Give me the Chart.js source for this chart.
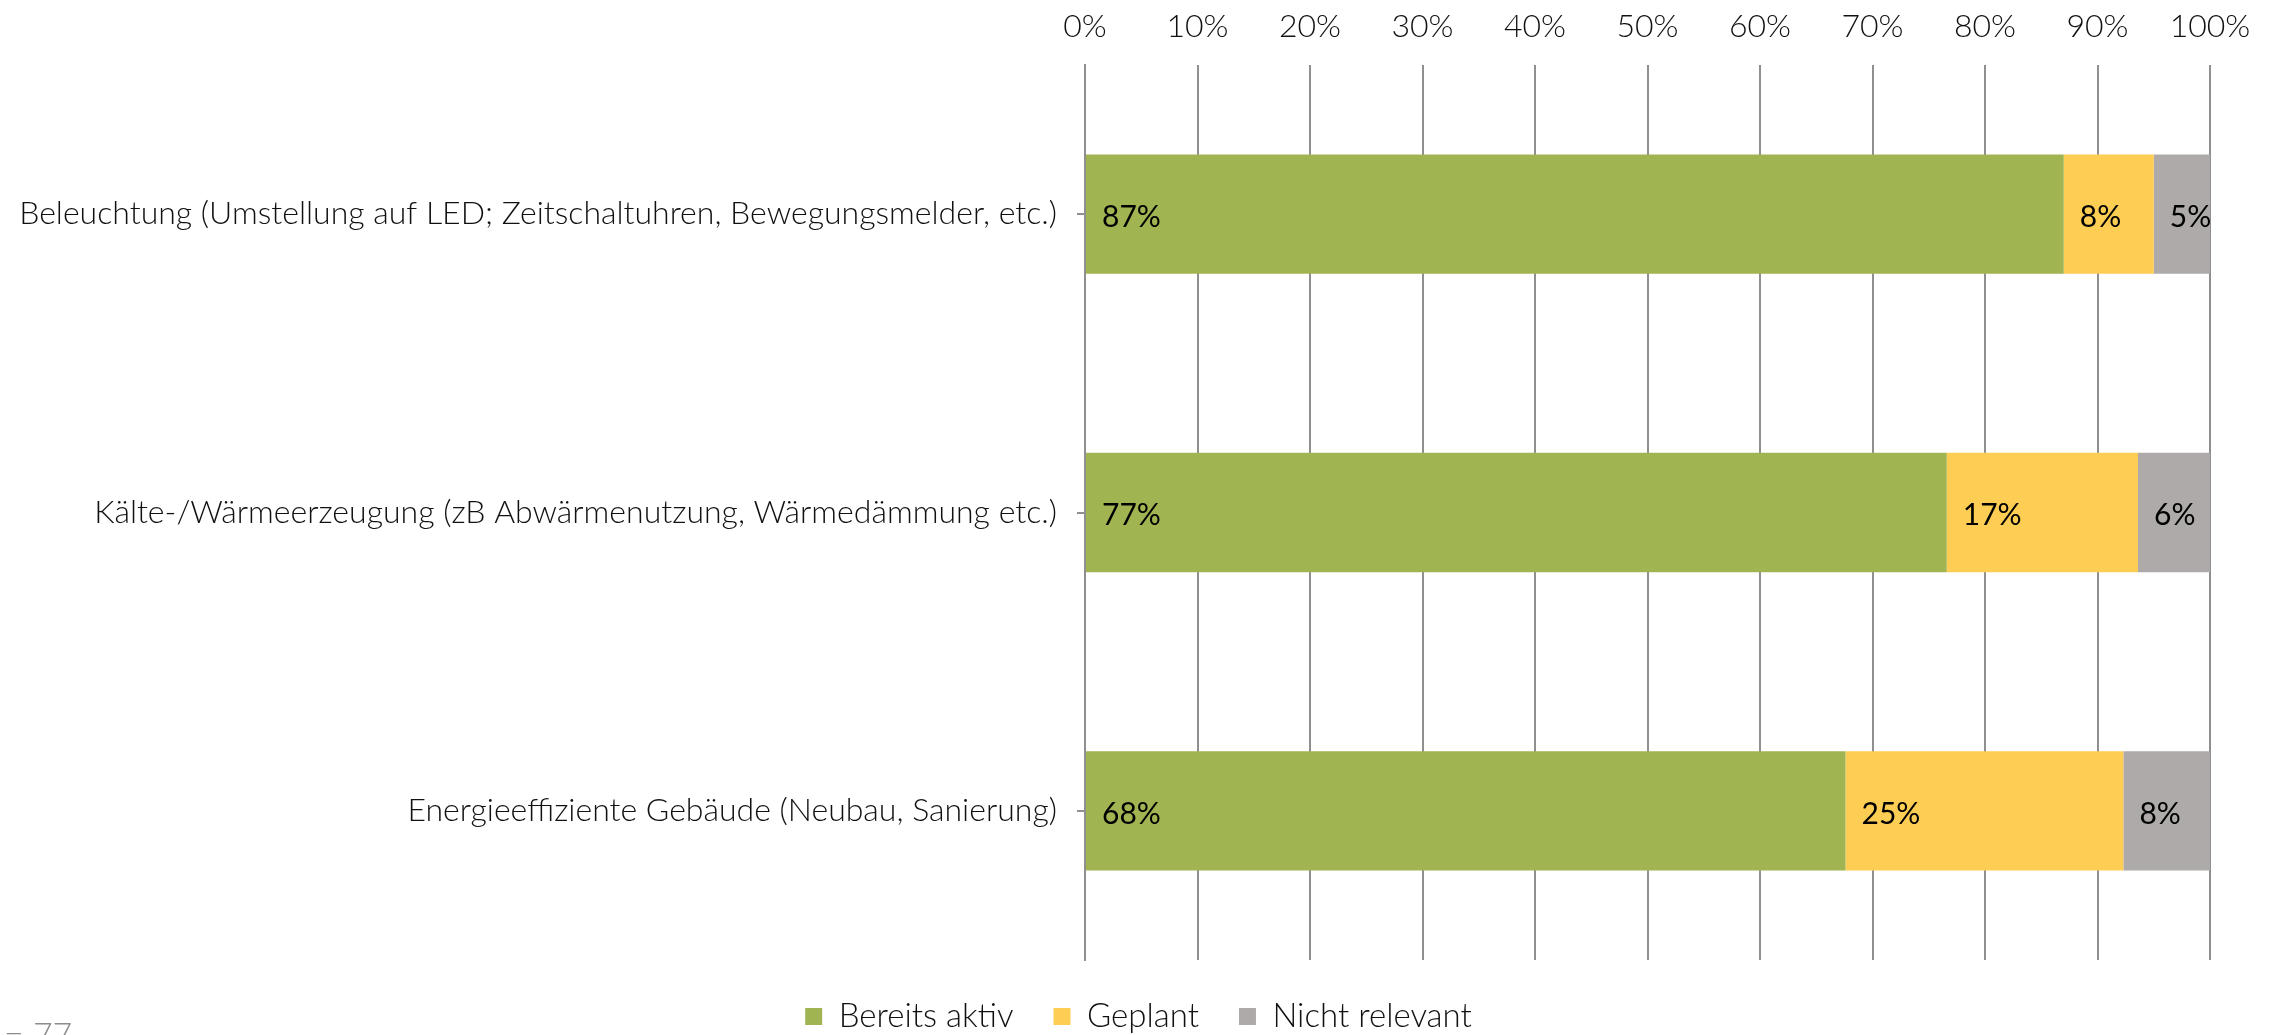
<!DOCTYPE html>
<html>
<head>
<meta charset="utf-8">
<script src="https://cdn.jsdelivr.net/npm/chart.js@4"></script>
<style>
  html, body { margin: 0; padding: 0; background: #fff; overflow: hidden; }
  #wrap { position: relative; width: 2277px; height: 1035px; }
  #note { position: absolute; left: -24px; top: 1013px; font: 300 34px Lato, sans-serif; color: #8c8c8c; }
</style>
</head>
<body>
<div id="wrap">
  <canvas id="chart" width="2277" height="1035"></canvas>
  <div id="note">n = 77</div>
</div>
<script>
// Kategorien und Werte (Anteile in %)
const categories = [
  'Beleuchtung (Umstellung auf LED; Zeitschaltuhren, Bewegungsmelder, etc.)',
  'Kälte-/Wärmeerzeugung (zB Abwärmenutzung, Wärmedämmung etc.)',
  'Energieeffiziente Gebäude (Neubau, Sanierung)'
];
const bereitsAktiv = [87.0, 76.6, 67.6];
const geplant = [8.0, 17.0, 24.7];
const nichtRelevant = [5.0, 6.4, 7.7];
const xTicks = [0, 10, 20, 30, 40, 50, 60, 70, 80, 90, 100];

const gridColor = '#8f8f8f';
const lightFont = { family: 'Lato', size: 32, weight: 300 };

// Wertebeschriftung links im Segment
const segmentLabels = {
  id: 'segmentLabels',
  afterDatasetsDraw(chart) {
    const ctx = chart.ctx;
    ctx.save();
    ctx.font = '400 30px Lato, sans-serif';
    ctx.fillStyle = '#000';
    ctx.textBaseline = 'middle';
    ctx.textAlign = 'left';
    chart.data.datasets.forEach((ds, i) => {
      chart.getDatasetMeta(i).data.forEach((bar, j) => {
        const left = Math.min(bar.base, bar.x);
        ctx.fillText(Math.round(ds.data[j]) + '%', left + 16, bar.y + 3);
      });
    });
    ctx.restore();
  }
};

// Legende über die volle Breite zentrieren
const centerLegend = {
  id: 'centerLegend',
  afterLayout(chart) {
    if (!chart.legend) return;
    chart.legend.left = 0;
    chart.legend.right = chart.width;
    chart.legend.width = chart.width;
  }
};

new Chart(document.getElementById('chart'), {
  type: 'bar',
  data: {
    labels: categories,
    datasets: [
      { label: 'Bereits aktiv', data: bereitsAktiv, backgroundColor: '#a1b452' },
      { label: 'Geplant', data: geplant, backgroundColor: '#fecd53' },
      { label: 'Nicht relevant', data: nichtRelevant, backgroundColor: '#aeaaaa' }
    ]
  },
  options: {
    indexAxis: 'y',
    responsive: false,
    animation: false,
    layout: { padding: { left: 0, right: 67, top: 0, bottom: -8 } },
    datasets: { bar: { barPercentage: 0.4, categoryPercentage: 1 } },
    plugins: {
      legend: {
        position: 'bottom',
        labels: {
          font: { family: 'Lato', size: 33, weight: 300 },
          color: '#111',
          boxWidth: 17,
          boxHeight: 17,
          padding: 40
        }
      },
      tooltip: { enabled: false }
    },
    scales: {
      x: {
        position: 'top',
        stacked: true,
        min: 0,
        max: 100,
        afterBuildTicks: (scale) => { scale.ticks = xTicks.map(v => ({ value: v })); },
        afterFit: (scale) => { scale.height = 65; },
        ticks: {
          callback: (v) => v + '%',
          font: lightFont,
          color: '#111',
          padding: 19
        },
        grid: { color: gridColor, lineWidth: 2, drawTicks: false },
        border: { display: false }
      },
      y: {
        stacked: true,
        afterFit: (scale) => { scale.width = 1085; },
        ticks: {
          font: lightFont,
          color: '#111',
          padding: 20
        },
        grid: { drawOnChartArea: false, color: gridColor, lineWidth: 2, tickLength: 8, offset: false },
        border: { display: true, color: gridColor, width: 2 }
      }
    }
  },
  plugins: [segmentLabels, centerLegend]
});
</script>
</body>
</html>
